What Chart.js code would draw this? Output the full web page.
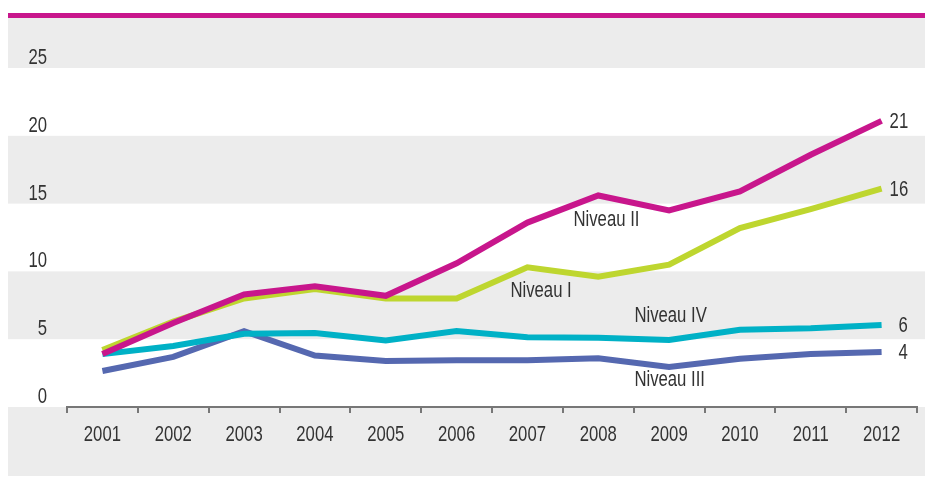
<!DOCTYPE html>
<html>
<head>
<meta charset="utf-8">
<script src="https://cdn.jsdelivr.net/npm/chart.js@4.4.0/dist/chart.umd.min.js"></script>
<style>
    html, body { margin: 0; padding: 0; background: #fff; }
    #wrap { width: 925px; height: 478px; position: relative; }
</style>
</head>
<body>
<div id="wrap"><canvas id="niveauChart"></canvas></div>
<script>
const years = ["2001", "2002", "2003", "2004", "2005", "2006", "2007", "2008", "2009", "2010", "2011", "2012"];
const niveauII = [3.9, 6.2, 8.3, 8.9, 8.2, 10.6, 13.6, 15.6, 14.5, 15.9, 18.6, 21.1];
const niveauI = [4.2, 6.3, 8.0, 8.7, 8.0, 8.0, 10.3, 9.6, 10.5, 13.2, 14.6, 16.1];
const niveauIV = [3.9, 4.5, 5.4, 5.45, 4.9, 5.6, 5.15, 5.1, 4.95, 5.7, 5.8, 6.05];
const niveauIII = [2.65, 3.7, 5.6, 3.8, 3.4, 3.45, 3.45, 3.6, 2.95, 3.55, 3.9, 4.05];
const yTicks = [0, 5, 10, 15, 20, 25];
const endLabels = ["21", "16", "6", "4"];

const FONT = "'Liberation Sans', Arial, sans-serif";
const SQUEEZE = 0.76; // the original uses a condensed face
const GREY = "#ececec";
const TEXT = "#333333";

// series names placed next to the lines (x as category index, y as value)
const nameLabels = [
    { text: "Niveau II", x: 6.65, y: 13.8 },
    { text: "Niveau I", x: 5.76, y: 8.55 },
    { text: "Niveau IV", x: 7.51, y: 6.7 },
    { text: "Niveau III", x: 7.51, y: 2.0 }
];

function narrowText(ctx, text, px, py, align, baseline) {
    ctx.save();
    ctx.font = "22px " + FONT;
    ctx.fillStyle = TEXT;
    ctx.textAlign = align;
    ctx.textBaseline = baseline;
    ctx.translate(px, py);
    ctx.scale(SQUEEZE, 1);
    ctx.fillText(text, 0, 0);
    ctx.restore();
}

const decorPlugin = {
    id: "decor",
    beforeDraw(chart) {
        const ctx = chart.ctx;
        const y = chart.scales.y;
        const x = chart.scales.x;
        const w = chart.width;
        ctx.save();
        ctx.fillStyle = GREY;
        ctx.fillRect(8, 18, w - 8, chart.height - 20);
        ctx.fillStyle = "#ffffff";
        for (let i = 0; i < yTicks.length - 1; i += 2) {
            const top = y.getPixelForValue(yTicks[i + 1]);
            const bottom = y.getPixelForValue(yTicks[i]);
            ctx.fillRect(8, top, w - 8, bottom - top);
        }
        ctx.fillStyle = "#c8168c";
        ctx.fillRect(8, 13, w - 8, 5);
        ctx.restore();

        yTicks.forEach(v => {
            narrowText(ctx, String(v), 47, y.getPixelForValue(v) + 1, "right", "bottom");
        });
        years.forEach((yr, i) => {
            narrowText(ctx, yr, x.getPixelForValue(i), x.top + 28, "center", "middle");
        });
    },
    afterDatasetsDraw(chart) {
        const ctx = chart.ctx;
        const x = chart.scales.x;
        const y = chart.scales.y;
        nameLabels.forEach(l => {
            narrowText(ctx, l.text, x.getPixelForValue(l.x), y.getPixelForValue(l.y), "left", "middle");
        });
        chart.data.datasets.forEach((ds, i) => {
            const last = ds.data.length - 1;
            const px = x.getPixelForValue(last);
            const py = y.getPixelForValue(ds.data[last]);
            const off = endLabels[i].length > 1 ? 8 : 17;
            narrowText(ctx, endLabels[i], px + off, py + 1, "left", "middle");
        });
    }
};

function makeSet(label, data, color) {
    return {
        label: label,
        data: data,
        borderColor: color,
        backgroundColor: color,
        borderWidth: 6,
        pointRadius: 0,
        tension: 0,
        borderCapStyle: "butt",
        borderJoinStyle: "miter",
        fill: false
    };
}

const ctx = document.getElementById("niveauChart").getContext("2d");
const niveauChart = new Chart(ctx, {
    type: "line",
    data: {
        labels: years,
        datasets: [
            makeSet("Niveau II", niveauII, "#c8168c"),
            makeSet("Niveau I", niveauI, "#bed62f"),
            makeSet("Niveau IV", niveauIV, "#00b1c6"),
            makeSet("Niveau III", niveauIII, "#5568b0")
        ]
    },
    options: {
        responsive: true,
        maintainAspectRatio: false,
        animation: false,
        layout: { padding: { top: 68, left: 67, right: 8, bottom: 0 } },
        plugins: { legend: { display: false }, tooltip: { enabled: false } },
        scales: {
            y: { display: false, min: 0, max: 25 },
            x: {
                offset: true,
                border: { display: true, color: "#777777", width: 2 },
                grid: {
                    offset: true,
                    drawOnChartArea: false,
                    drawTicks: true,
                    tickLength: 6,
                    color: "#777777",
                    lineWidth: 2
                },
                ticks: { display: false },
                afterFit(scale) { scale.height = 71; }
            }
        }
    },
    plugins: [decorPlugin]
});
</script>
</body>
</html>
